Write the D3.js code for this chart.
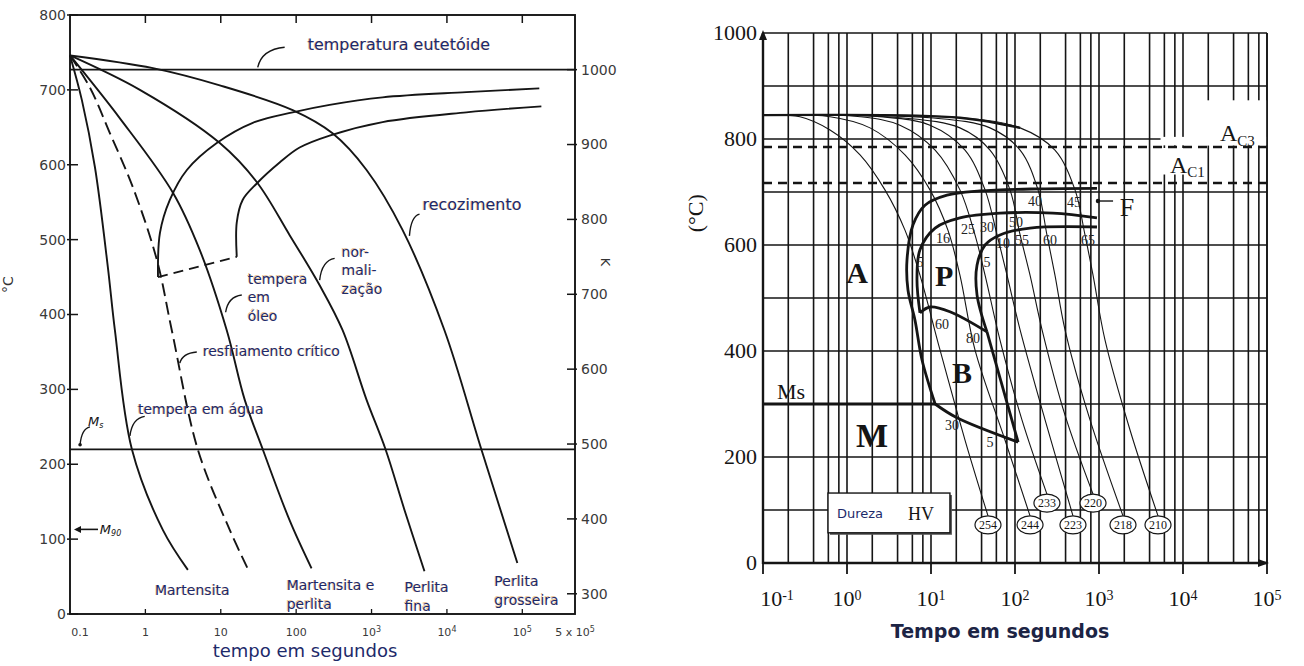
<!DOCTYPE html>
<html>
<head>
<meta charset="utf-8">
<title>Curvas de resfriamento</title>
<script src="https://cdn.jsdelivr.net/npm/d3@7/dist/d3.min.js"></script>
<style>
  body { margin: 0; background: #fff; }
  svg { display: block; }
</style>
</head>
<body>
<div id="chart"></div>
<script>
// ===== LEFT DIAGRAM: cooling curves over a TTT diagram =====
const leftTempTicks = [0, 100, 200, 300, 400, 500, 600, 700, 800];
const leftKelvinTicks = [300, 400, 500, 600, 700, 800, 900, 1000];
const leftTimeTicks = [0.1, 1, 10, 100, 1e3, 1e4, 1e5, 5e5];
const leftTimeLabels = ["0.1", "1", "10", "100", "10|3", "10|4", "10|5", "5 x 10|5"];
const eutectoidTemp = 727;
const msTemp = 220;
const m90Temp = 113;

// [time (s), temperature (°C)]
const aguaCurve = [[0.1, 746], [0.144, 686], [0.214, 597], [0.318, 463], [0.394, 379], [0.662, 220], [1.71, 112], [3.66, 59]];
const criticoCurve = [[0.1, 746], [0.184, 703], [0.339, 642], [0.682, 570], [1.42, 473], [2.24, 379], [4.95, 220], [13.2, 112], [24.2, 55]];
const oleoCurve = [[0.1, 746], [0.459, 662], [2.31, 563], [5.27, 486], [12.0, 379], [20.8, 286], [36.0, 220], [82.0, 125], [160, 61]];
const normalCurve = [[0.1, 746], [0.845, 700], [9.7, 629], [30.0, 577], [82.0, 506], [205, 439], [413, 379], [859, 286], [1532, 220], [2735, 139], [5035, 57]];
const recozCurve = [[0.1, 746], [1.26, 729], [9.7, 706], [89.9, 673], [304, 642], [859, 593], [2576, 513], [9270, 379], [28600, 220], [85900, 68]];
const startCurve = [[1.47, 450], [1.56, 509], [2.11, 553], [3.55, 593], [8.85, 629], [26.6, 656], [89.9, 670], [278, 680], [1400, 690], [18100, 697], [168000, 702]];
const finishCurve = [[16.3, 477], [16.3, 523], [19.5, 553], [30.0, 575], [60.4, 603], [111, 623], [278, 639], [1400, 657], [18100, 670], [179000, 678]];
const dashedLink = [[1.47, 450], [16.3, 477]];

// annotations: anchor [time, temp], text lines
const leftNotes = [
  { at: [142, 753], lines: ["temperatura eutetóide"], size: 16 },
  { at: [4730, 539], lines: ["recozimento"], size: 16 },
  { at: [401, 477], lines: ["nor-", "mali-", "zação"], size: 14 },
  { at: [22.8, 441], lines: ["tempera", "em", "óleo"], size: 14 },
  { at: [5.78, 344], lines: ["resfriamento crítico"], size: 14 },
  { at: [0.796, 267], lines: ["tempera em água"], size: 14 },
  { at: [1.34, 25], lines: ["Martensita"], size: 14 },
  { at: [74.8, 32], lines: ["Martensita e", "perlita"], size: 14 },
  { at: [2735, 29], lines: ["Perlita", "fina"], size: 14 },
  { at: [42600, 37], lines: ["Perlita", "grosseira"], size: 14 }
];
const leftLeaders = [
  [[70.4, 757], [30.9, 730]],
  [[4330, 534], [3180, 505]],
  [[324, 475], [205, 446]],
  [[19.0, 426], [11.6, 403]],
  [[4.81, 350], [2.86, 335]],
  [[0.98, 264], [0.624, 238]],
  [[0.184, 250], [0.136, 226]]
];

// ===== RIGHT DIAGRAM: CCT diagram with hardness =====
const rightTempTicks = [0, 200, 400, 600, 800, 1000];
const rightGridTemps = [0, 100, 200, 300, 400, 500, 600, 700, 800, 900, 1000];
const decadeExps = [-1, 0, 1, 2, 3, 4, 5];
const minorMults = [2, 4, 6, 8];
const ac3Temp = 785;
const ac1Temp = 717;
const msRightTemp = 300;

const hvValues = [254, 244, 233, 223, 220, 218, 210];
const hvTime = [47.7, 151, 240, 490, 849, 1930, 5040];
const hvTemp = [72, 72, 113, 72, 113, 72, 72];
const coolingCurves = [
  [[0.1, 845], [0.275, 842], [0.628, 817], [1.43, 770], [2.83, 704], [4.9, 628], [7.39, 543], [12.8, 402], [25.4, 232], [47.7, 89]],
  [[0.1, 845], [0.628, 842], [1.88, 821], [4.9, 770], [9.73, 704], [15.9, 628], [22.1, 543], [33.4, 402], [76.0, 232], [151, 89]],
  [[0.1, 845], [1.43, 842], [4.27, 826], [11.2, 779], [22.1, 704], [33.4, 619], [44.0, 543], [66.2, 421], [121, 270], [240, 130]],
  [[0.1, 845], [2.47, 842], [9.73, 826], [25.4, 779], [44.0, 704], [61.1, 619], [80.3, 543], [115, 440], [228, 270], [490, 89]],
  [[0.1, 845], [4.27, 840], [22.1, 821], [50.4, 779], [87.2, 704], [115, 619], [151, 543], [210, 440], [394, 279], [849, 130]],
  [[0.1, 845], [9.73, 840], [50.4, 821], [115, 779], [188, 704], [240, 619], [299, 543], [394, 440], [782, 270], [1930, 89]],
  [[0.1, 845], [22.1, 840], [115, 821], [299, 779], [518, 704], [681, 619], [849, 543], [1178, 421], [2340, 251], [5040, 89]]
];
const pStartCurve = [[946, 707], [199, 706], [38.3, 702], [15.5, 694], [8.48, 675], [6.11, 638], [5.18, 572], [5.32, 515], [6.45, 458], [7.82, 383], [11.2, 300]];
const pMidCurve = [[946, 651], [283, 660], [66.2, 660], [22.1, 651], [11.2, 632], [7.39, 591], [6.81, 534], [7.39, 472]];
const pEndCurve = [[946, 634], [151, 632], [66.2, 619], [44.0, 600], [35.3, 562], [35.3, 506], [46.4, 436]];
const bTopCurve = [[7.39, 472], [9.73, 483], [16.8, 474], [46.4, 436]];
const bEndLine = [[46.4, 436], [109, 228]];
const mStartCurve = [[11.2, 300], [20.4, 274], [109, 228]];

const pctLabels = [
  ["16", 13.9, 613], ["25", 27.5, 630], ["30", 46.4, 634], ["50", 103, 643],
  ["40", 173, 683], ["45", 503, 681], ["5", 7.39, 568], ["5", 46.4, 568],
  ["10", 72, 604], ["55", 121, 609], ["60", 261, 609], ["65", 740, 609],
  ["60", 13.5, 451], ["80", 31.6, 425], ["30", 17.8, 260], ["5", 50.4, 228]
];
const phaseLabels = [["A", 1.32, 528, 30], ["P", 14.3, 523, 30], ["B", 23.4, 340, 30], ["M", 1.99, 219, 34]];
// masks behind the A_C labels: [t0, t1, T0, T1]
const labelMasks = [[5400, 99000, 788, 804], [15000, 99000, 788, 873], [5400, 17000, 733, 783]];

// ---------------------------------------------------------------
const ink = "#151515";
const noteColor = "#1d2a6a";
const sans = "'DejaVu Sans', Arial, sans-serif";
const serif = "'Liberation Serif', 'Times New Roman', serif";

const svg = d3.select("#chart").append("svg")
  .attr("width", 1304).attr("height", 666)
  .style("background", "#fff");

// ---------------- LEFT ----------------
const xL = d3.scaleLog().domain([0.1, 5e5]).range([70, 575]);
const yL = d3.scaleLinear().domain([0, 800]).range([614, 15]);
const yKel = d3.scaleLinear().domain([273, 1073]).range([614, 15]);
const lineL = d3.line().x(d => xL(d[0])).y(d => yL(d[1])).curve(d3.curveCatmullRom.alpha(0.5));
const left = svg.append("g").attr("class", "left");

left.append("rect")
  .attr("x", xL(0.1)).attr("y", yL(800))
  .attr("width", xL(5e5) - xL(0.1)).attr("height", yL(0) - yL(800))
  .attr("fill", "none").attr("stroke", ink).attr("stroke-width", 1.9);

// °C axis
left.selectAll("line.tc").data(leftTempTicks).join("line").attr("class", "tc")
  .attr("x1", xL(0.1) - 3).attr("x2", xL(0.1) + 8)
  .attr("y1", d => yL(d)).attr("y2", d => yL(d))
  .attr("stroke", ink).attr("stroke-width", 1.5);
left.selectAll("text.tc").data(leftTempTicks).join("text").attr("class", "tc")
  .attr("x", xL(0.1) - 4).attr("y", d => yL(d)).attr("dy", "0.35em")
  .attr("text-anchor", "end").attr("font-family", sans).attr("font-size", 14).attr("fill", "#3a3a3a")
  .text(d => d);
// K axis
left.selectAll("line.tk").data(leftKelvinTicks).join("line").attr("class", "tk")
  .attr("x1", xL(5e5) - 8).attr("x2", xL(5e5) + 2)
  .attr("y1", d => yKel(d)).attr("y2", d => yKel(d))
  .attr("stroke", ink).attr("stroke-width", 1.5);
left.selectAll("text.tk").data(leftKelvinTicks).join("text").attr("class", "tk")
  .attr("x", xL(5e5) + 6).attr("y", d => yKel(d)).attr("dy", "0.35em")
  .attr("font-family", sans).attr("font-size", 14).attr("fill", "#3a3a3a")
  .text(d => d);
// time ticks (top inward and bottom inward)
const innerTimes = leftTimeTicks.filter(t => t > 0.1 && t < 5e5);
left.selectAll("line.tt").data(innerTimes).join("line").attr("class", "tt")
  .attr("x1", d => xL(d)).attr("x2", d => xL(d))
  .attr("y1", yL(800)).attr("y2", yL(800) + 8)
  .attr("stroke", ink).attr("stroke-width", 1.5);
left.selectAll("line.tb").data(innerTimes).join("line").attr("class", "tb")
  .attr("x1", d => xL(d)).attr("x2", d => xL(d))
  .attr("y1", yL(0)).attr("y2", yL(0) - 5)
  .attr("stroke", ink).attr("stroke-width", 1.3);
left.selectAll("text.tl").data(leftTimeTicks).join("text").attr("class", "tl")
  .attr("x", (d, i) => xL(d) + (i === 0 ? 10 : 0)).attr("y", yL(0) + 22)
  .attr("text-anchor", "middle").attr("font-family", sans).attr("font-size", 11).attr("fill", "#3a3a3a")
  .each(function (d, i) {
    const parts = leftTimeLabels[i].split("|");
    const t = d3.select(this);
    t.append("tspan").text(parts[0]);
    if (parts[1]) t.append("tspan").attr("dy", "-0.45em").attr("font-size", 8).text(parts[1]);
  });

// reference lines
[eutectoidTemp, msTemp].forEach(T => {
  left.append("line")
    .attr("x1", xL(0.1)).attr("x2", xL(5e5))
    .attr("y1", yL(T)).attr("y2", yL(T))
    .attr("stroke", ink).attr("stroke-width", 1.7);
});

// curves
[aguaCurve, oleoCurve, normalCurve, recozCurve, startCurve, finishCurve].forEach(c => {
  left.append("path").attr("d", lineL(c))
    .attr("fill", "none").attr("stroke", ink).attr("stroke-width", 1.9);
});
left.append("path").attr("d", lineL(criticoCurve))
  .attr("fill", "none").attr("stroke", ink).attr("stroke-width", 1.9).attr("stroke-dasharray", "13,6");
left.append("path").attr("d", d3.line().x(d => xL(d[0])).y(d => yL(d[1]))(dashedLink))
  .attr("fill", "none").attr("stroke", ink).attr("stroke-width", 1.9).attr("stroke-dasharray", "10,6");

// leaders
leftLeaders.forEach(([a, b]) => {
  const x0 = xL(a[0]), y0 = yL(a[1]), x1 = xL(b[0]), y1 = yL(b[1]);
  left.append("path")
    .attr("d", `M${x0},${y0} Q${x1 + (x0 - x1) * 0.15},${y0 + (y1 - y0) * 0.1} ${x1},${y1}`)
    .attr("fill", "none").attr("stroke", ink).attr("stroke-width", 1.4);
});
left.append("circle").attr("cx", xL(0.136)).attr("cy", yL(226)).attr("r", 1.8).attr("fill", ink);
// M90 arrow
left.append("line")
  .attr("x1", xL(0.235)).attr("x2", xL(0.113) + 5)
  .attr("y1", yL(m90Temp)).attr("y2", yL(m90Temp))
  .attr("stroke", ink).attr("stroke-width", 1.6);
left.append("path")
  .attr("d", `M${xL(0.113)},${yL(m90Temp)} l7,-3.5 l0,7 z`).attr("fill", ink);

// notes
leftNotes.forEach(n => {
  const t = left.append("text")
    .attr("x", xL(n.at[0])).attr("y", yL(n.at[1]))
    .attr("font-family", sans).attr("font-size", n.size).attr("fill", noteColor)
    .style("text-shadow", "-0.8px -0.5px 0 rgba(214,150,70,0.55)");
  n.lines.forEach((l, i) => t.append("tspan").attr("x", xL(n.at[0])).attr("dy", i === 0 ? 0 : "1.32em").text(l));
});
const msText = left.append("text").attr("x", xL(0.173)).attr("y", yL(251))
  .attr("font-family", sans).attr("font-size", 13).attr("font-style", "italic").attr("fill", ink);
msText.append("tspan").text("M");
msText.append("tspan").attr("dy", "0.3em").attr("font-size", 8).text("s");
const m90Text = left.append("text").attr("x", xL(0.249)).attr("y", yL(107))
  .attr("font-family", sans).attr("font-size", 13).attr("font-style", "italic").attr("fill", ink);
m90Text.append("tspan").text("M");
m90Text.append("tspan").attr("dy", "0.3em").attr("font-size", 8).text("90");

// axis titles
left.append("text").attr("transform", `translate(13,${yL(440)}) rotate(-90)`)
  .attr("text-anchor", "middle").attr("font-family", sans).attr("font-size", 14).attr("fill", "#333").text("°C");
left.append("text").attr("transform", `translate(601,${yL(470)}) rotate(90)`)
  .attr("text-anchor", "middle").attr("font-family", sans).attr("font-size", 13).attr("fill", "#333").text("K");
left.append("text").attr("x", 305).attr("y", 657)
  .attr("text-anchor", "middle").attr("font-family", sans).attr("font-size", 18).attr("fill", noteColor)
  .text("tempo em segundos");

// ---------------- RIGHT ----------------
const xR = d3.scaleLog().domain([0.1, 1e5]).range([763, 1267]);
const yR = d3.scaleLinear().domain([0, 1000]).range([563, 33]);
const lineR = d3.line().x(d => xR(d[0])).y(d => yR(d[1])).curve(d3.curveCatmullRom.alpha(0.5));
const lineRs = d3.line().x(d => xR(d[0])).y(d => yR(d[1]));
const right = svg.append("g").attr("class", "right");

const gridTimes = decadeExps.flatMap(e => e < 5 ? [10 ** e, ...minorMults.map(m => m * 10 ** e)] : [10 ** e]);
right.selectAll("line.gv").data(gridTimes).join("line").attr("class", "gv")
  .attr("x1", d => xR(d)).attr("x2", d => xR(d))
  .attr("y1", yR(1000)).attr("y2", yR(0))
  .attr("stroke", ink).attr("stroke-width", 1.6);
right.selectAll("line.gh").data(rightGridTemps).join("line").attr("class", "gh")
  .attr("x1", xR(0.1)).attr("x2", xR(1e5))
  .attr("y1", d => yR(d)).attr("y2", d => yR(d))
  .attr("stroke", ink).attr("stroke-width", 1.7);
// white masks behind A_C labels
labelMasks.forEach(m => {
  right.append("rect")
    .attr("x", xR(m[0])).attr("y", yR(m[3]))
    .attr("width", xR(m[1]) - xR(m[0])).attr("height", yR(m[2]) - yR(m[3]))
    .attr("fill", "#fff");
});
// axes
right.append("line").attr("x1", xR(0.1)).attr("x2", xR(0.1)).attr("y1", yR(1000)).attr("y2", yR(0) + 1)
  .attr("stroke", ink).attr("stroke-width", 2.4);
right.append("line").attr("x1", xR(0.1)).attr("x2", xR(1e5)).attr("y1", yR(0)).attr("y2", yR(0))
  .attr("stroke", ink).attr("stroke-width", 2.4);
right.append("line").attr("x1", xR(1e5)).attr("x2", xR(1e5)).attr("y1", yR(1000)).attr("y2", yR(0))
  .attr("stroke", ink).attr("stroke-width", 1.6);
right.append("path").attr("d", `M${xR(0.1)},${yR(1000) - 3} l-4,10 l8,0 z`).attr("fill", ink);
right.append("path").attr("d", `M${xR(1e5) + 2},${yR(0)} l-11,-4 l0,8 z`).attr("fill", ink);
right.selectAll("line.xt").data(decadeExps.map(e => 10 ** e)).join("line").attr("class", "xt")
  .attr("x1", d => xR(d)).attr("x2", d => xR(d))
  .attr("y1", yR(0)).attr("y2", yR(0) + 11)
  .attr("stroke", ink).attr("stroke-width", 1.8);

// tick labels
right.selectAll("text.yt").data(rightTempTicks).join("text").attr("class", "yt")
  .attr("x", xR(0.1) - 6).attr("y", d => yR(d)).attr("dy", "0.33em")
  .attr("text-anchor", "end").attr("font-family", serif).attr("font-size", 22).attr("fill", ink)
  .text(d => d);
right.selectAll("text.xtl").data(decadeExps).join("text").attr("class", "xtl")
  .attr("x", d => xR(10 ** d) + (d === -1 ? 14 : 0)).attr("y", 606)
  .attr("text-anchor", "middle").attr("font-family", serif).attr("font-size", 22).attr("fill", ink)
  .each(function (d) {
    const t = d3.select(this);
    t.append("tspan").text("10");
    t.append("tspan").attr("dy", "-0.45em").attr("font-size", 14).text(d);
  });
right.append("text").attr("transform", `translate(703,${yR(660)}) rotate(-90)`)
  .attr("text-anchor", "middle").attr("font-family", serif).attr("font-size", 22).attr("fill", ink).text("(°C)");
right.append("text").attr("x", 1000).attr("y", 638)
  .attr("text-anchor", "middle").attr("font-family", sans).attr("font-weight", "bold")
  .attr("font-size", 19).attr("fill", "#1c2444").text("Tempo em segundos");

// critical temperatures
[ac3Temp, ac1Temp].forEach(T => {
  right.append("line").attr("x1", xR(0.1)).attr("x2", xR(1e5))
    .attr("y1", yR(T)).attr("y2", yR(T))
    .attr("stroke", ink).attr("stroke-width", 2.6).attr("stroke-dasharray", "9,6");
});

// cooling curves
coolingCurves.forEach(c => {
  right.append("path").attr("d", lineR(c))
    .attr("fill", "none").attr("stroke", ink).attr("stroke-width", 1.1);
});
right.append("path").attr("d", lineR(coolingCurves[6].slice(0, 3)))
  .attr("fill", "none").attr("stroke", ink).attr("stroke-width", 2.4);

// transformation boundaries
[pStartCurve, pMidCurve, pEndCurve, bTopCurve, mStartCurve].forEach(c => {
  right.append("path").attr("d", lineR(c))
    .attr("fill", "none").attr("stroke", ink).attr("stroke-width", 2.8);
});
right.append("path").attr("d", lineRs(bEndLine))
  .attr("fill", "none").attr("stroke", ink).attr("stroke-width", 2.8);
right.append("line").attr("x1", xR(0.1)).attr("x2", xR(11.2))
  .attr("y1", yR(msRightTemp)).attr("y2", yR(msRightTemp))
  .attr("stroke", ink).attr("stroke-width", 3);

// labels
right.selectAll("text.pct").data(pctLabels).join("text").attr("class", "pct")
  .attr("x", d => xR(d[1])).attr("y", d => yR(d[2])).attr("dy", "0.35em")
  .attr("text-anchor", "middle").attr("font-family", serif).attr("font-size", 14).attr("fill", "#222")
  .text(d => d[0]);
right.selectAll("text.ph").data(phaseLabels).join("text").attr("class", "ph")
  .attr("x", d => xR(d[1])).attr("y", d => yR(d[2]))
  .attr("text-anchor", "middle").attr("font-family", serif).attr("font-weight", "bold")
  .attr("font-size", d => d[3]).attr("fill", ink)
  .text(d => d[0]);
right.append("text").attr("x", xR(0.147)).attr("y", yR(309))
  .attr("font-family", serif).attr("font-size", 22).attr("fill", ink).text("Ms");
function subLabel(t, T, base, sub) {
  const s = right.append("text").attr("x", xR(t)).attr("y", yR(T))
    .attr("font-family", serif).attr("font-size", 24).attr("fill", ink);
  s.append("tspan").text(base);
  s.append("tspan").attr("dy", "0.3em").attr("font-size", 15).text(sub);
}
subLabel(27500, 796, "A", "C3");
subLabel(7000, 736, "A", "C1");
right.append("circle").attr("cx", xR(972)).attr("cy", yR(683)).attr("r", 2.2).attr("fill", ink);
right.append("line").attr("x1", xR(972)).attr("x2", xR(1470)).attr("y1", yR(683)).attr("y2", yR(683))
  .attr("stroke", ink).attr("stroke-width", 1.4);
right.append("text").attr("x", xR(2150)).attr("y", yR(655)).attr("text-anchor", "middle")
  .attr("font-family", serif).attr("font-size", 26).attr("fill", ink).text("F");

// legend box
right.append("rect").attr("x", xR(0.594) + 2).attr("y", yR(132) + 2)
  .attr("width", xR(16.8) - xR(0.594)).attr("height", yR(57) - yR(132)).attr("fill", "#555");
right.append("rect").attr("x", xR(0.594)).attr("y", yR(132))
  .attr("width", xR(16.8) - xR(0.594)).attr("height", yR(57) - yR(132))
  .attr("fill", "#fff").attr("stroke", ink).attr("stroke-width", 1.4);
right.append("text").attr("x", xR(0.76)).attr("y", yR(85))
  .attr("font-family", sans).attr("font-size", 13).attr("fill", noteColor).text("Dureza");
right.append("text").attr("x", xR(5.32)).attr("y", yR(81))
  .attr("font-family", serif).attr("font-size", 18).attr("fill", ink).text("HV");

// hardness ellipses
const hv = right.selectAll("g.hv").data(hvValues).join("g").attr("class", "hv")
  .attr("transform", (d, i) => `translate(${xR(hvTime[i])},${yR(hvTemp[i])})`);
hv.append("ellipse").attr("rx", 13).attr("ry", 9)
  .attr("fill", "#fff").attr("stroke", ink).attr("stroke-width", 1.2);
hv.append("text").attr("dy", "0.35em").attr("text-anchor", "middle")
  .attr("font-family", serif).attr("font-size", 12).attr("fill", ink).text(d => d);
</script>
</body>
</html>
